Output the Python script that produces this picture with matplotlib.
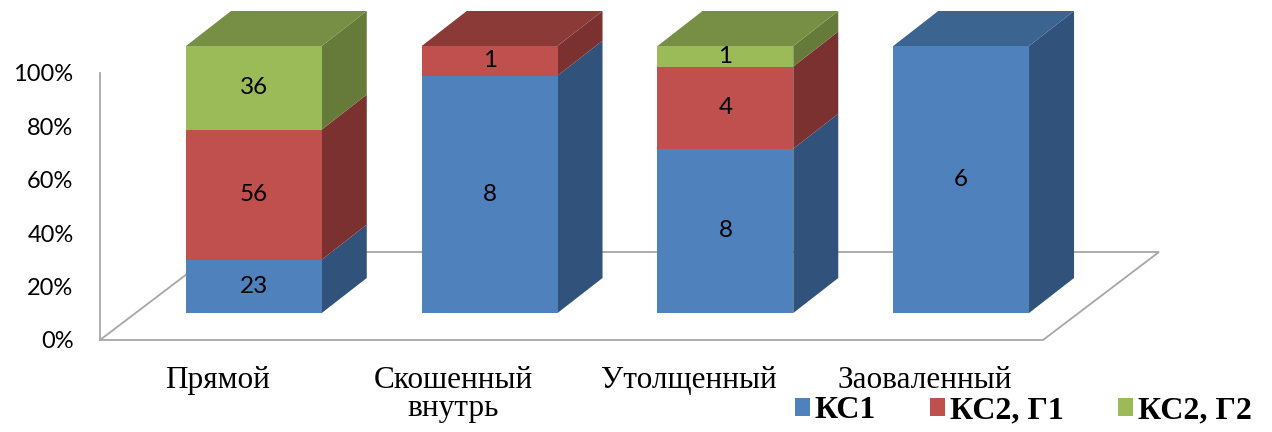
import matplotlib
matplotlib.use("Agg")
import matplotlib.pyplot as plt
import numpy as np
from matplotlib.patches import Polygon, Patch
from matplotlib.transforms import IdentityTransform

# ---- data -------------------------------------------------------------
categories = ["Прямой", "Скошенный\nвнутрь", "Утолщенный", "Заоваленный"]
series_names = ["КС1", "КС2, Г1", "КС2, Г2"]
ks1 = [23, 8, 8, 6]
ks2_g1 = [56, 1, 4, 0]
ks2_g2 = [36, 0, 1, 0]
y_ticks = [0, 20, 40, 60, 80, 100]
y_tick_labels = ["0%", "20%", "40%", "60%", "80%", "100%"]

# ---- style ------------------------------------------------------------
front_colors = ["#4F81BD", "#C0504D", "#9BBB59"]
side_colors = ["#31537B", "#7B3130", "#667B3A"]
top_colors = ["#3C6491", "#8C3A38", "#778F45"]
grid_color = "#A6A6A6"
bar_width = 0.576          # in category units
front_shift = (36, 27)     # px: bar front face sits inside the floor depth
bar_depth = (45, 35)       # px: depth of each box
floor_depth = (116, 88)    # px: depth of the floor plane

W, H = 1272, 432
fig = plt.figure(figsize=(W / 100, H / 100), dpi=100)
ax = fig.add_axes([100 / W, (H - 340) / H, (1043 - 100) / W, (340 - 73) / H])
ax.set_xlim(-0.5, len(categories) - 0.5)
ax.set_ylim(0, 100)
for s in ax.spines.values():
    s.set_visible(False)
ax.patch.set_alpha(0)

num_font = ["Lato", "DejaVu Sans"]
ax.set_yticks(y_ticks)
ax.set_yticklabels(y_tick_labels, fontsize=17, family=num_font)
ax.tick_params(axis="y", length=0, pad=19)
ax.set_xticks(np.arange(len(categories)))
ax.set_xticklabels(categories, fontsize=22.5, family="Liberation Serif",
                   linespacing=0.95)
ax.tick_params(axis="x", length=0, pad=19)

to_px = ax.transData.transform
ident = IdentityTransform()


def add_poly(pts, color, z, **kw):
    ax.add_patch(Polygon(pts, closed=True, transform=ident, facecolor=color,
                         edgecolor="none", zorder=z, clip_on=False, **kw))


# floor plane and the vertical wall line
x0, x1 = -0.5, len(categories) - 0.5
f0 = to_px((x0, 0))
f1 = to_px((x1, 0))
fd = np.array(floor_depth)
floor = np.array([f0, f1, f1 + fd, f0 + fd])
ax.add_patch(Polygon(floor, closed=True, transform=ident, facecolor="white",
                     edgecolor=grid_color, lw=1.3, zorder=1, clip_on=False))
ax.plot([x0, x0], [0, 100], color=grid_color, lw=1.3, zorder=1, clip_on=False)

# stacked 100% boxes
series = np.array([ks1, ks2_g1, ks2_g2], dtype=float)
totals = series.sum(axis=0)
shares = series / totals * 100
fs = np.array(front_shift)
bd = np.array(bar_depth)

for i in range(len(categories)):
    left, right = i - bar_width / 2, i + bar_width / 2
    bottom = 0.0
    top_idx = max(k for k in range(len(series)) if series[k, i] > 0)
    for k in range(len(series)):
        if series[k, i] <= 0:
            continue
        h = shares[k, i]
        bl = to_px((left, bottom)) + fs
        br = to_px((right, bottom)) + fs
        tr = to_px((right, bottom + h)) + fs
        tl = to_px((left, bottom + h)) + fs
        # side face
        add_poly([br, tr, tr + bd, br + bd], side_colors[k], 3)
        # front face
        add_poly([bl, br, tr, tl], front_colors[k], 4)
        # top face on the highest segment
        if k == top_idx:
            add_poly([tl, tr, tr + bd, tl + bd], top_colors[k], 3)
        # value label in the middle of the front face
        cx, cy = (bl + tr) / 2
        ax.text(cx, cy, f"{int(series[k, i])}", transform=ident,
                ha="center", va="center", fontsize=17.5, family=num_font,
                color="black", zorder=6)
        bottom += h

# legend
handles = [Patch(facecolor=c, edgecolor="none") for c in front_colors]
fig.legend(handles, series_names, loc="center right", ncol=3,
           bbox_to_anchor=(1252 / W, (H - 411) / H), frameon=False,
           borderpad=0, borderaxespad=0, handlelength=0.47, handleheight=0.47,
           handletextpad=0.15, columnspacing=1.7,
           prop={"family": "Liberation Serif", "weight": "bold", "size": 23})

fig.savefig("out.png", dpi=100)
